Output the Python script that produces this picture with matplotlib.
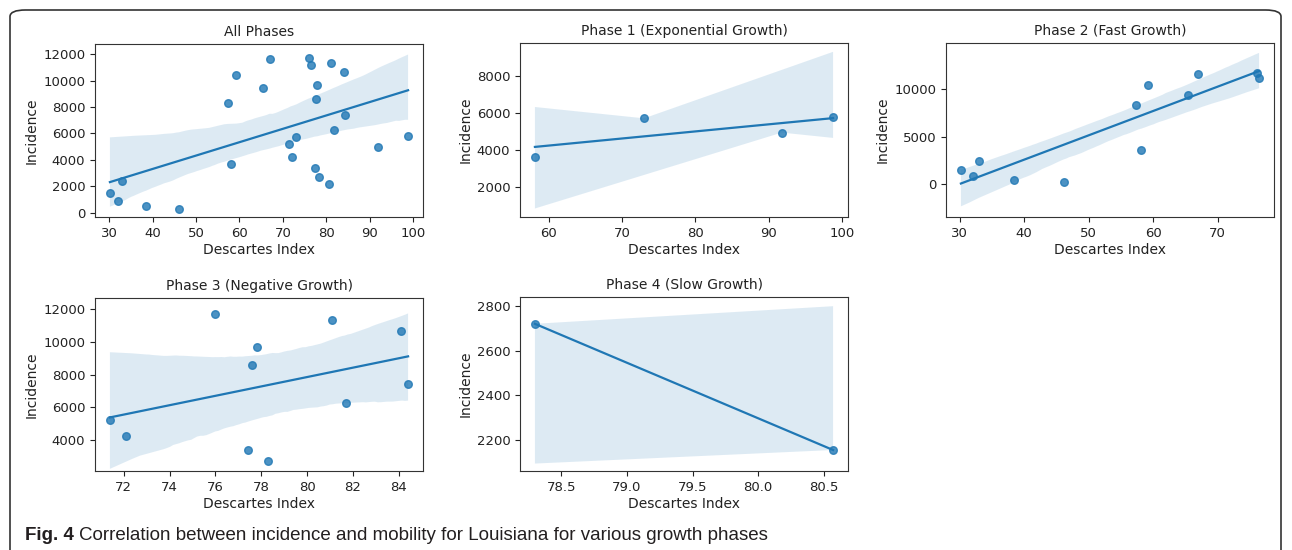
import numpy as np
import matplotlib
matplotlib.use("Agg")
import matplotlib.pyplot as plt
from matplotlib.patches import FancyBboxPatch
from matplotlib.ticker import MultipleLocator
import seaborn as sns

# Descartes index (mobility) vs incidence, Louisiana, per growth phase
phase1_x = [58.1, 73.0, 91.8, 98.8]
phase1_y = [3650, 5720, 4950, 5800]

phase2_x = [30.2, 32.0, 33.0, 38.4, 46.2, 57.4, 58.1, 59.2, 65.4, 67.0, 76.0, 76.4]
phase2_y = [1480, 880, 2420, 500, 270, 8300, 3650, 10450, 9450, 11650, 11700, 11200]

phase3_x = [76.0, 71.4, 72.1, 77.4, 77.6, 77.8, 78.3, 81.1, 81.7, 84.1, 84.4]
phase3_y = [11700, 5200, 4220, 3400, 8580, 9700, 2720, 11350, 6250, 10650, 7400]

phase4_x = [78.3, 80.57]
phase4_y = [2720, 2155]

titles = ["All Phases", "Phase 1 (Exponential Growth)", "Phase 2 (Fast Growth)",
          "Phase 3 (Negative Growth)", "Phase 4 (Slow Growth)"]
y_limits = [(-330, 12780), (400, 9780), (-3440, 14870), (2100, 12690), (2061, 2840)]
y_steps = [2000, 2000, 5000, 2000, 200]

# all phases = union of the phase points (shared boundary days counted once)
all_pts = []
for xs, ys in [(phase1_x, phase1_y), (phase2_x, phase2_y), (phase3_x, phase3_y), (phase4_x, phase4_y)]:
    for p in zip(xs, ys):
        if p not in all_pts:
            all_pts.append(p)
all_x = [p[0] for p in all_pts]
all_y = [p[1] for p in all_pts]

datasets = [(all_x, all_y), (phase1_x, phase1_y), (phase2_x, phase2_y),
            (phase3_x, phase3_y), (phase4_x, phase4_y)]

W, H = 1292, 550
fig = plt.figure(figsize=(W / 100, H / 100), dpi=100)

# axes boxes in pixels: left, top, right, bottom
boxes = [(95, 44, 423, 217), (520, 43, 848, 217), (946, 43, 1274, 217),
         (95, 298, 423, 471), (520, 297, 848, 471)]

txt = '#222222'
for i, ((xs, ys), title, (l, t, r, b)) in enumerate(zip(datasets, titles, boxes)):
    ax = fig.add_axes([l / W, 1 - b / H, (r - l) / W, (b - t) / H])
    sns.regplot(x=np.array(xs), y=np.array(ys), ax=ax, seed=0,
                scatter_kws={'s': 30}, line_kws={'linewidth': 1.6})
    ax.set_ylim(*y_limits[i])
    ax.yaxis.set_major_locator(MultipleLocator(y_steps[i]))
    ax.set_title(title, fontsize=10, color=txt, pad=6)
    ax.set_xlabel("Descartes Index", fontsize=10, color=txt, labelpad=2)
    ax.set_ylabel("Incidence", fontsize=10, color=txt, labelpad=3)
    ax.tick_params(labelsize=9.5, colors=txt, length=3.5)
    for s in ax.spines.values():
        s.set_color('#333333')

# journal frame and caption
frame = FancyBboxPatch((10 / W, -0.1), (W - 21) / W, 1 - 10 / H + 0.1,
                       boxstyle="round,pad=0,rounding_size=0.012",
                       transform=fig.transFigure, fill=False,
                       edgecolor='#333333', linewidth=1.2)
fig.patches.append(frame)

cap_fam = ['Liberation Sans Narrow', 'Liberation Sans', 'DejaVu Sans']
t1 = fig.text(25 / W, 1 - 536 / H, "Fig. 4", fontsize=13.5, fontweight='bold',
              family=cap_fam, va='center', color='#231f20')
fig.canvas.draw()
bb = t1.get_window_extent()
fig.text((bb.x1 + 5) / W, 1 - 536 / H,
         "Correlation between incidence and mobility for Louisiana for various growth phases",
         fontsize=13.5, family=cap_fam, va='center', color='#231f20')

plt.savefig('out.png', dpi=100)
